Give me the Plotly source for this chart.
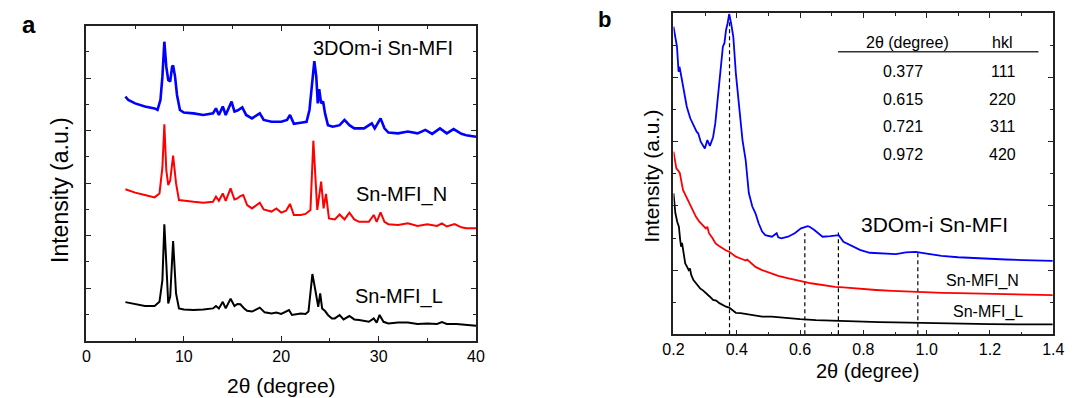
import plotly.graph_objects as go

# ---------------- Panel a data (wide-angle XRD) ----------------
a_L_theta = [4, 5, 6, 7, 7.5, 7.8, 8.0, 8.2, 8.4, 8.6, 8.9, 9.2, 9.5, 10, 11, 12, 13, 13.3, 13.6, 14, 14.3,
             14.8, 15.2, 15.5, 15.8, 16.2, 16.5, 17, 17.8, 18.3, 19, 19.5, 20, 20.8, 21.1, 22, 22.5, 22.8,
             23.0, 23.2, 23.5, 23.8, 24.0, 24.2, 24.5, 24.8, 25.2, 25.5, 26, 26.4, 27, 27.5, 28, 29, 29.5,
             29.8, 30.1, 30.5, 31, 32, 33, 34, 35, 36, 36.5, 37, 38, 39, 40]
a_L_int = [1.47, 1.40, 1.32, 1.32, 1.48, 2.31, 4.43, 2.95, 1.42, 1.68, 3.80, 1.80, 1.23, 1.19, 1.17, 1.19,
           1.23, 1.32, 1.23, 1.48, 1.23, 1.60, 1.32, 1.40, 1.39, 1.23, 1.14, 1.11, 1.26, 1.08, 1.04, 1.07,
           1.02, 1.17, 0.98, 1.04, 1.02, 1.11, 1.80, 2.54, 1.93, 1.29, 1.80, 1.23, 1.13, 0.98, 0.85, 0.85,
           0.98, 0.81, 0.94, 0.81, 0.79, 0.72, 0.85, 0.69, 0.98, 0.72, 0.66, 0.69, 0.69, 0.64, 0.66, 0.64,
           0.71, 0.64, 0.64, 0.60, 0.57]

a_N_theta = [4, 5, 6, 7, 7.5, 7.8, 8.0, 8.2, 8.4, 8.6, 8.9, 9.2, 9.5, 10, 11, 12, 13, 13.3, 13.6, 14, 14.3,
             14.8, 15.2, 15.5, 15.8, 16.1, 16.5, 17, 17.8, 18.2, 19, 19.5, 20, 20.5, 20.9, 21.3, 22, 22.5,
             23.0, 23.3, 23.7, 24.1, 24.35, 24.6, 24.9, 25.5, 26, 26.5, 27, 27.5, 28, 29, 29.5, 29.8, 30.2,
             30.6, 31, 32, 33, 34, 35, 36, 36.5, 37, 37.8, 38.5, 39, 40]
a_N_int = [5.77, 5.64, 5.55, 5.46, 5.61, 6.60, 8.24, 6.50, 5.93, 6.10, 7.05, 6.00, 5.36, 5.33, 5.29, 5.26,
           5.29, 5.49, 5.33, 5.61, 5.33, 5.80, 5.38, 5.42, 5.51, 5.55, 5.17, 5.04, 5.26, 5.00, 4.92, 5.04,
           4.88, 4.95, 5.21, 4.79, 4.79, 4.83, 4.98, 7.62, 4.98, 6.06, 5.04, 5.59, 4.66, 4.62, 4.81, 4.62,
           4.88, 4.62, 4.53, 4.53, 4.79, 4.53, 4.89, 4.53, 4.44, 4.41, 4.47, 4.37, 4.44, 4.37, 4.47, 4.35,
           4.44, 4.32, 4.28, 4.28]

a_3D_theta = [4, 4.3, 5, 6, 7, 7.3, 7.6, 7.8, 8.0, 8.2, 8.4, 8.6, 8.8, 8.9, 9.1, 9.3, 9.6, 10, 11, 12, 13,
              13.3, 13.6, 14, 14.3, 14.9, 15.2, 15.5, 16.0, 16.4, 17, 17.8, 18.2, 19, 20, 20.6, 20.9, 21.3,
              22, 22.6, 22.9, 23.2, 23.4, 23.6, 23.75, 23.9, 24.1, 24.3, 24.5, 24.8, 25.3, 26, 26.5, 27,
              27.5, 28.5, 29.3, 29.6, 30.2, 30.6, 31, 32, 33, 34, 34.8, 35.5, 36.3, 37, 37.7, 38.5, 39, 40]
a_3D_int = [9.30, 9.17, 9.04, 8.92, 8.85, 8.79, 9.17, 10.06, 11.39, 10.44, 9.93, 9.87, 10.44, 10.48, 10.06,
            9.36, 8.79, 8.69, 8.66, 8.60, 8.66, 8.85, 8.60, 8.92, 8.60, 9.11, 8.73, 8.77, 8.89, 8.60, 8.47,
            8.66, 8.41, 8.34, 8.34, 8.41, 8.60, 8.26, 8.30, 8.34, 8.79, 10.06, 10.65, 10.06, 9.04, 9.58,
            9.04, 9.11, 8.66, 8.21, 8.15, 8.21, 8.41, 8.21, 8.09, 8.09, 8.28, 8.09, 8.47, 8.09, 7.93, 7.90,
            7.97, 7.90, 8.03, 7.88, 8.09, 7.90, 8.06, 7.88, 7.83, 7.77]

a_x_ticks = [0, 10, 20, 30, 40]

# ---------------- Panel b data (low-angle XRD) ----------------
b_3D_theta = [0.200, 0.205, 0.211, 0.216, 0.219, 0.222, 0.232, 0.242, 0.253, 0.263, 0.273, 0.278, 0.286,
              0.299, 0.307, 0.315, 0.320, 0.325, 0.332, 0.340, 0.348, 0.356, 0.361, 0.366, 0.371, 0.376,
              0.382, 0.389, 0.397, 0.407, 0.418, 0.428, 0.433, 0.438, 0.449, 0.459, 0.469, 0.480, 0.490,
              0.511, 0.526, 0.531, 0.541, 0.562, 0.583, 0.603, 0.624, 0.630, 0.645, 0.671, 0.696, 0.722,
              0.737, 0.758, 0.789, 0.820, 0.861, 0.903, 0.934, 0.965, 0.995, 1.047, 1.099, 1.150, 1.202,
              1.250, 1.305, 1.350, 1.398]
b_3D_int = [9.58, 9.27, 8.96, 8.18, 8.34, 8.18, 7.61, 7.09, 6.73, 6.52, 6.31, 6.26, 6.00, 5.79, 6.05, 5.87,
            6.00, 6.14, 6.57, 7.30, 8.02, 8.96, 9.07, 9.48, 9.69, 9.98, 9.69, 9.27, 8.13, 7.09, 6.05, 5.43,
            4.81, 4.40, 3.98, 3.77, 3.46, 3.20, 3.09, 3.04, 3.15, 3.02, 2.99, 3.04, 3.15, 3.30, 3.37, 3.35,
            3.25, 3.04, 3.06, 3.09, 2.88, 2.78, 2.63, 2.54, 2.52, 2.50, 2.55, 2.57, 2.52, 2.44, 2.40, 2.37,
            2.35, 2.33, 2.31, 2.30, 2.29]

b_N_theta = [0.200, 0.205, 0.209, 0.215, 0.220, 0.230, 0.240, 0.250, 0.260, 0.271, 0.281, 0.292, 0.302,
             0.307, 0.312, 0.323, 0.333, 0.344, 0.354, 0.365, 0.376, 0.386, 0.397, 0.412, 0.428, 0.433,
             0.443, 0.459, 0.480, 0.500, 0.531, 0.560, 0.583, 0.610, 0.634, 0.660, 0.686, 0.710, 0.737,
             0.789, 0.840, 0.892, 0.950, 0.995, 1.050, 1.099, 1.150, 1.202, 1.300, 1.398]
b_N_int = [5.69, 5.45, 5.17, 5.10, 5.02, 4.50, 4.30, 4.08, 3.85, 3.66, 3.52, 3.40, 3.30, 3.35, 3.15, 3.00,
           2.83, 2.75, 2.68, 2.62, 2.57, 2.50, 2.42, 2.36, 2.30, 2.33, 2.24, 2.10, 2.00, 1.93, 1.82, 1.75,
           1.69, 1.64, 1.59, 1.55, 1.50, 1.48, 1.46, 1.41, 1.38, 1.35, 1.32, 1.30, 1.29, 1.28, 1.27, 1.26,
           1.24, 1.22]

b_L_theta = [0.200, 0.203, 0.206, 0.212, 0.217, 0.221, 0.224, 0.227, 0.232, 0.237, 0.243, 0.248, 0.252,
             0.256, 0.263, 0.273, 0.284, 0.294, 0.304, 0.315, 0.325, 0.335, 0.345, 0.356, 0.366, 0.376,
             0.386, 0.397, 0.412, 0.428, 0.450, 0.480, 0.510, 0.550, 0.600, 0.650, 0.700, 0.750, 0.800,
             0.850, 0.900, 0.950, 1.000, 1.100, 1.200, 1.300, 1.398]
b_L_int = [4.39, 4.10, 3.77, 3.50, 3.35, 2.95, 2.73, 2.85, 2.50, 2.21, 2.10, 2.00, 2.05, 1.85, 1.69, 1.55,
           1.43, 1.36, 1.28, 1.17, 1.07, 1.05, 0.97, 0.90, 0.86, 0.83, 0.76, 0.67, 0.66, 0.63, 0.60, 0.55,
           0.55, 0.51, 0.47, 0.44, 0.42, 0.41, 0.40, 0.38, 0.37, 0.36, 0.34, 0.33, 0.32, 0.31, 0.31]

# reflections table (2theta, hkl) and height reached by each dashed guide line
b_peak_2theta = [0.377, 0.615, 0.721, 0.972]
b_peak_hkl = ["111", "220", "311", "420"]
b_peak_line_top = [10.0, 3.15, 3.17, 2.60]
b_x_ticks = [0.2, 0.4, 0.6, 0.8, 1.0, 1.2, 1.4]

FONT = "Liberation Sans, Arial, Helvetica, sans-serif"
W, H = 1078, 398


def px(x):
    return x / W


def py(y):
    return 1 - y / H


fig = go.Figure()

# panel a traces
fig.add_trace(go.Scatter(x=a_3D_theta, y=a_3D_int, mode="lines", line=dict(color="#0000FF", width=2.6),
                         xaxis="x", yaxis="y", showlegend=False))
fig.add_trace(go.Scatter(x=a_N_theta, y=a_N_int, mode="lines", line=dict(color="#FF0000", width=2),
                         xaxis="x", yaxis="y", showlegend=False))
fig.add_trace(go.Scatter(x=a_L_theta, y=a_L_int, mode="lines", line=dict(color="#000000", width=2),
                         xaxis="x", yaxis="y", showlegend=False))

# panel b dashed guides
for p, top in zip(b_peak_2theta, b_peak_line_top):
    fig.add_trace(go.Scatter(x=[p, p], y=[0, top], mode="lines",
                             line=dict(color="#000000", width=1.2, dash="4px,3px"),
                             xaxis="x2", yaxis="y2", showlegend=False, hoverinfo="skip"))

# panel b traces
fig.add_trace(go.Scatter(x=b_3D_theta, y=b_3D_int, mode="lines", line=dict(color="#0000FF", width=1.8),
                         xaxis="x2", yaxis="y2", showlegend=False))
fig.add_trace(go.Scatter(x=b_N_theta, y=b_N_int, mode="lines", line=dict(color="#FF0000", width=1.8),
                         xaxis="x2", yaxis="y2", showlegend=False))
fig.add_trace(go.Scatter(x=b_L_theta, y=b_L_int, mode="lines", line=dict(color="#000000", width=1.8),
                         xaxis="x2", yaxis="y2", showlegend=False))

axis_common = dict(showline=True, linecolor="#222222", linewidth=1.6, mirror="ticks",
                   ticks="inside", tickcolor="#222222", tickwidth=1.4, showgrid=False, zeroline=False,
                   tickfont=dict(family=FONT, size=16, color="#000000"))

fig.update_layout(
    width=W, height=H, autosize=False,
    margin=dict(l=0, r=0, t=0, b=0, pad=0),
    paper_bgcolor="white", plot_bgcolor="white",
    font=dict(family=FONT, color="#000000"),
    xaxis=dict(domain=[px(77), px(474.7)], range=[0, 40], tickvals=a_x_ticks, ticklen=5,
               minor=dict(dtick=5, ticks="inside", ticklen=3, tickcolor="#222222", tickwidth=1.4),
               anchor="y", **axis_common),
    yaxis=dict(domain=[py(340.7), py(25.7)], range=[0, 12], dtick=2, ticklen=5, showticklabels=False,
               minor=dict(dtick=1, ticks="inside", ticklen=3, tickcolor="#222222", tickwidth=1.4),
               anchor="x", **axis_common),
    xaxis2=dict(domain=[px(676.3), px(1064)], range=[0.2, 1.4], tickvals=b_x_ticks, tickformat=".1f",
                ticklen=5,
                minor=dict(dtick=0.1, tick0=0.2, ticks="inside", ticklen=3, tickcolor="#222222", tickwidth=1.4),
                anchor="y2", **axis_common),
    yaxis2=dict(domain=[py(334.3), py(13.3)], range=[0, 10], dtick=2, ticklen=5, showticklabels=False,
                minor=dict(dtick=1, ticks="inside", ticklen=3, tickcolor="#222222", tickwidth=1.4),
                anchor="x2", **axis_common),
)

ann = []


def text(x, y, s, size, bold=False, angle=0, xanchor="center"):
    ann.append(dict(x=px(x), y=py(y), xref="paper", yref="paper", text=("<b>%s</b>" % s) if bold else s,
                    showarrow=False, xanchor=xanchor, yanchor="middle", textangle=angle,
                    font=dict(family=FONT, size=size, color="#000000")))


# panel letters
text(18, 24, "a", 24, bold=True)
text(606, 19, "b", 22, bold=True)

# panel a titles and labels
text(275.7, 385, "2θ (degree)", 21)
text(50, 190, "Intensity (a.u.)", 23, angle=-90)
text(380, 48, "3DOm-i Sn-MFI", 20)
text(399, 195, "Sn-MFI_N", 20)
text(396, 296, "Sn-MFI_L", 20)

# panel b titles and labels
text(874, 371, "2θ (degree)", 20)
text(653, 176, "Intensity (a.u.)", 21, angle=-90)
text(943, 225, "3DOm-i Sn-MFI", 21)
text(992, 281, "Sn-MFI_N", 16)
text(997, 312, "Sn-MFI_L", 16)

# table of reflections (data coordinates of panel b)
ann.append(dict(x=0.939, y=9.08, xref="x2", yref="y2", text="2θ (degree)", showarrow=False,
                font=dict(family=FONT, size=16, color="#000000")))
ann.append(dict(x=1.239, y=9.08, xref="x2", yref="y2", text="hkl", showarrow=False,
                font=dict(family=FONT, size=16, color="#000000")))
row_y = [8.18, 7.32, 6.46, 5.61]
for ry, p, h in zip(row_y, b_peak_2theta, b_peak_hkl):
    ann.append(dict(x=0.926, y=ry, xref="x2", yref="y2", text="%.3f" % p, showarrow=False,
                    font=dict(family=FONT, size=16, color="#000000")))
    ann.append(dict(x=1.241, y=ry, xref="x2", yref="y2", text=h, showarrow=False,
                    font=dict(family=FONT, size=16, color="#000000")))

fig.update_layout(annotations=ann)
fig.add_shape(type="line", xref="x2", yref="y2", x0=0.72, x1=1.353, y0=8.80, y1=8.80,
              line=dict(color="#333333", width=1.4))

fig.write_html("out.html", config={"displayModeBar": False, "responsive": False},
               post_script="document.body.style.margin='0px';document.body.style.padding='0px';document.body.style.overflow='hidden';")
